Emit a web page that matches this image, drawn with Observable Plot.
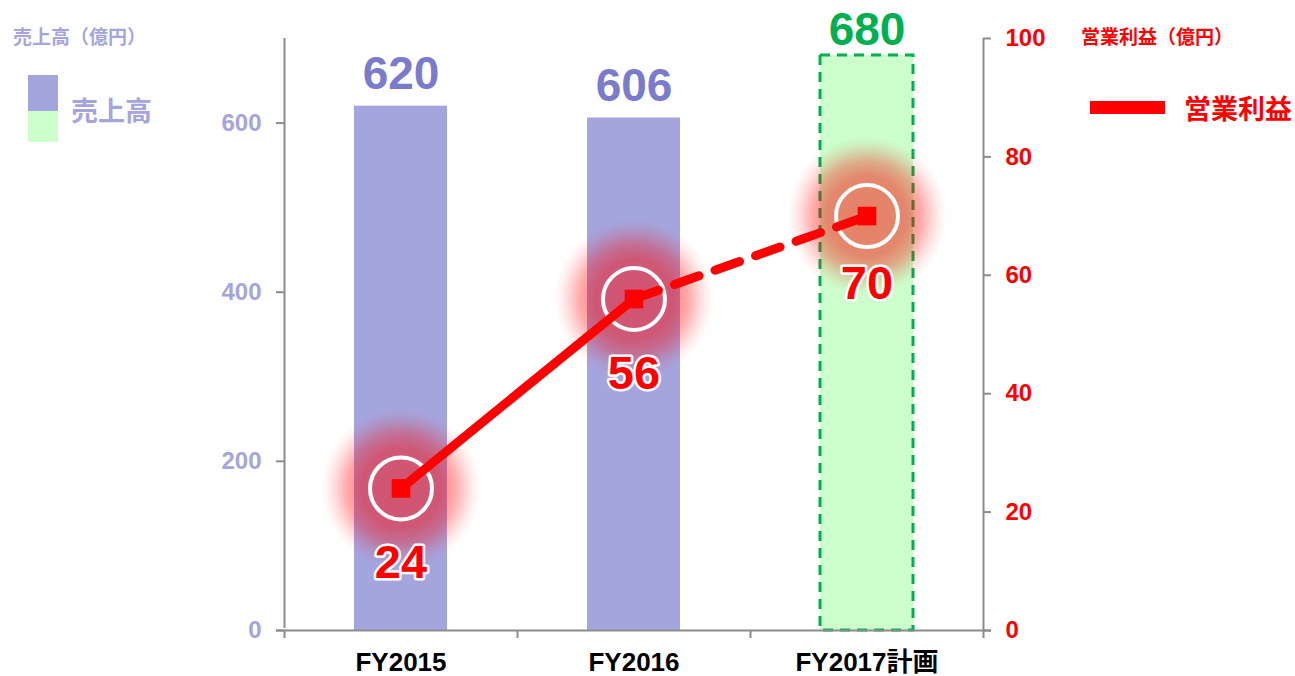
<!DOCTYPE html>
<html><head><meta charset="utf-8">
<script src="https://cdn.jsdelivr.net/npm/d3@7"></script>
<script src="https://cdn.jsdelivr.net/npm/@observablehq/plot@0.6"></script>
<style>
body{margin:0;background:#fff;}
#wrap{position:relative;width:1295px;height:676px;overflow:hidden;}
.lbl{position:absolute;font-weight:bold;line-height:1;white-space:nowrap;font-family:"Liberation Sans","Noto Sans CJK JP",sans-serif;}
svg{position:absolute;left:0;top:0;}
</style></head><body><div id="wrap"></div>
<script>
// ---- data ----
const categories = ["FY2015", "FY2016", "FY2017計画"];
const sales = [620, 606, 680];          // 売上高 (億円)
const isPlan = [false, false, true];
const profit = [24, 56, 70];            // 営業利益 (億円)
const salesTicks = [0, 200, 400, 600];
const profitTicks = [0, 20, 40, 60, 80, 100];
const salesMax = 700;
const profitMax = 100;

// ---- styles ----
const PURPLE = "#a5a5de";
const PURPLE_TXT = "#a5a5dd";
const PURPLE_VAL = "#7b7bcc";
const GREEN_FILL = "#ccffcc";
const GREEN = "#00b050";
const RED = "#ff0000";
const AXIS = "#8c8c8c";
const FONT = "'Liberation Sans', 'Noto Sans CJK JP', sans-serif";

const k = salesMax / profitMax; // right axis -> left scale
const bars = categories.map((c, i) => ({c, i, v: sales[i], plan: isPlan[i]}));
const pts = categories.map((c, i) => ({c, i, x: i + 0.5, p: profit[i], y: profit[i] * k}));
const solidSeg = pts.slice(0, 2);
const dashSeg = pts.slice(1, 3);

const chart = Plot.plot({
  width: 1295, height: 676,
  marginLeft: 284, marginRight: 312, marginTop: 38, marginBottom: 46,
  x: {type: "linear", domain: [0, categories.length], axis: null},
  y: {domain: [0, salesMax], axis: null},
  style: {fontFamily: FONT, background: "white", overflow: "visible"},
  marks: [
    // bars
    Plot.rectY(bars.filter(d => !d.plan), {x1: d => d.i, x2: d => d.i + 1, y1: 0, y2: d => d.v, fill: PURPLE, insetLeft: 70, insetRight: 70}),
    Plot.rectY(bars.filter(d => d.plan), {x1: d => d.i, x2: d => d.i + 1, y1: 0, y2: d => d.v, fill: GREEN_FILL, stroke: GREEN, strokeWidth: 3, strokeDasharray: "10,7", insetLeft: 70, insetRight: 70}),
    // bar value labels
    Plot.text(bars.filter(d => !d.plan), {x: d => d.i + 0.5, y: d => d.v, text: d => String(d.v), dy: -32, fill: PURPLE_VAL, fontSize: 46, fontWeight: "bold"}),
    Plot.text(bars.filter(d => d.plan), {x: d => d.i + 0.5, y: d => d.v, text: d => String(d.v), dy: -25, fill: GREEN, fontSize: 46, fontWeight: "bold"}),
    // left axis
    Plot.ruleX([0], {y1: 0, y2: salesMax, stroke: AXIS, strokeWidth: 2, insetTop: -2}),
    Plot.ruleY(salesTicks, {y: d => d, x1: 0, x2: 0, insetLeft: -8, stroke: AXIS, strokeWidth: 2}),
    Plot.text(salesTicks, {x: 0, y: d => d, text: d => String(d), dx: -23, textAnchor: "end", fill: PURPLE_TXT, fontSize: 24, fontWeight: "bold"}),
    // right axis
    Plot.ruleX([categories.length], {y1: 0, y2: profitMax * k, stroke: AXIS, strokeWidth: 2}),
    Plot.ruleY(profitTicks, {y: d => d * k, x1: categories.length, x2: categories.length, insetRight: -8, stroke: AXIS, strokeWidth: 2}),
    Plot.text(profitTicks, {x: categories.length, y: d => d * k, text: d => String(d), dx: 22, textAnchor: "start", fill: RED, fontSize: 24, fontWeight: "bold"}),
    // x axis
    Plot.ruleY([0], {x1: 0, x2: categories.length, insetLeft: -8, insetRight: -8, stroke: AXIS, strokeWidth: 2}),
    Plot.ruleX(d3.range(categories.length + 1), {x: d => d, y1: 0, y2: 0, insetBottom: -8, stroke: AXIS, strokeWidth: 2}),
    Plot.text(categories, {x: (d, i) => i + 0.5, y: 0, text: d => d, dy: 32, fill: "black", fontSize: 26, fontWeight: "bold"}),
    // glow
    Plot.dot(pts, {x: "x", y: "y", r: 80, fill: "url(#glow)", stroke: "none"}),
    // white rings
    Plot.dot(pts, {x: "x", y: "y", r: 31, fill: "none", stroke: "white", strokeWidth: 4}),
    // profit line
    Plot.line(solidSeg, {x: "x", y: "y", stroke: RED, strokeWidth: 9, strokeLinecap: "round"}),
    Plot.line(dashSeg, {x: "x", y: "y", stroke: RED, strokeWidth: 9, strokeLinecap: "round", strokeDasharray: "26,17"}),
    Plot.dot(pts, {x: "x", y: "y", symbol: "square", r: 10.5, fill: RED, stroke: "none"}),
    // profit value labels
    Plot.text(pts.slice(0, 2), {x: "x", y: "y", text: d => String(d.p), dy: 75, fill: RED, stroke: "white", strokeWidth: 5, fontSize: 47, fontWeight: "bold", ariaLabel: "profit-labels"}),
    Plot.text(pts.slice(2), {x: "x", y: "y", text: d => String(d.p), dy: 68, fill: RED, stroke: "white", strokeWidth: 5, fontSize: 47, fontWeight: "bold", ariaLabel: "profit-labels"})
  ]
});

const svg = d3.select(chart);
const defs = svg.insert("defs", ":first-child");
const g = defs.append("radialGradient").attr("id", "glow");
[[0, 0.5], [0.5, 0.47], [0.68, 0.33], [0.82, 0.15], [0.92, 0.05], [1, 0]].forEach(([o, a]) =>
  g.append("stop").attr("offset", o).attr("stop-color", RED).attr("stop-opacity", a));
svg.selectAll('g[aria-label="profit-labels"] text').style("filter", "drop-shadow(0 0 3px white)");

const wrap = document.getElementById("wrap");
wrap.appendChild(chart);

function label(text, left, top, size, color) {
  const d = document.createElement("div");
  d.className = "lbl";
  d.textContent = text;
  Object.assign(d.style, {left: left + "px", top: top + "px", fontSize: size + "px", color});
  wrap.appendChild(d);
  return d;
}
function box(left, top, w, h, color) {
  const d = document.createElement("div");
  Object.assign(d.style, {position: "absolute", left: left + "px", top: top + "px", width: w + "px", height: h + "px", background: color});
  wrap.appendChild(d);
}
label("売上高（億円）", 13, 28, 19, PURPLE_TXT);
box(28, 75, 30, 36, PURPLE);
box(28, 111, 30, 31, GREEN_FILL);
label("売上高", 71, 99, 27, PURPLE_TXT);
label("営業利益（億円）", 1081, 28, 19, RED);
box(1090, 101, 75, 13, RED);
label("営業利益", 1184, 97, 27, RED);
</script>
</body></html>
